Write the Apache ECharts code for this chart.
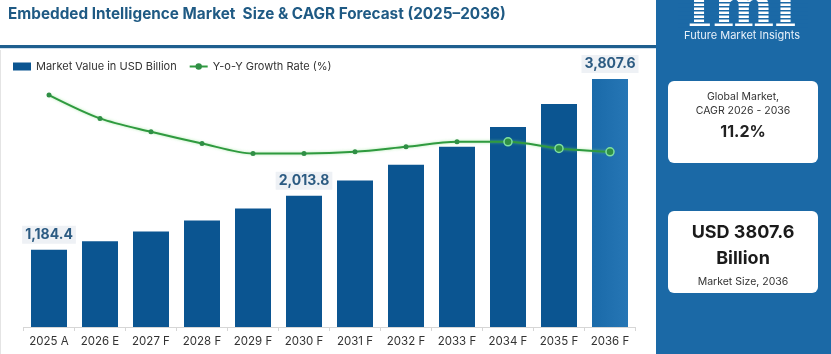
<!DOCTYPE html>
<html>
<head>
<meta charset="utf-8">
<script src="https://cdn.jsdelivr.net/npm/echarts@6/dist/echarts.min.js"></script>
<style>
  html, body { margin: 0; padding: 0; background: #fff; }
  #chart { width: 831px; height: 354px; }
</style>
</head>
<body>
<div id="chart"></div>
<script>
// data
const years = ['2025 A', '2026 E', '2027 F', '2028 F', '2029 F', '2030 F',
  '2031 F', '2032 F', '2033 F', '2034 F', '2035 F', '2036 F'];
const marketValue = [1184.4, 1315, 1468, 1636, 1820, 2013.8, 2248, 2492, 2768, 3073, 3425, 3807.6];
const growthRate = [13.9, 12.5, 11.7, 11.0, 10.4, 10.4, 10.5, 10.8, 11.1, 11.1, 10.7, 10.5];
const labelledYears = ['2025 A', '2030 F', '2036 F'];

const panelBlue = '#1b69a6';
const barBlue = '#0b5591';
const font = 'Inter, "Noto Sans", sans-serif';

const chart = echarts.init(document.getElementById('chart'));

const barData = marketValue.map((v, i) => {
  const item = { value: v };
  if (i === years.length - 1) {
    item.itemStyle = {
      color: new echarts.graphic.LinearGradient(0, 0, 1, 0, [
        { offset: 0, color: '#1a6aa9' },
        { offset: 1, color: '#2676b5' }
      ])
    };
  }
  if (labelledYears.indexOf(years[i]) >= 0) {
    item.label = {
      show: true,
      position: 'top',
      distance: 6,
      formatter: p => p.value.toLocaleString('en-US', { minimumFractionDigits: 1 }),
      color: '#2c5b82',
      fontWeight: 'bold',
      fontSize: 14,
      fontFamily: font,
      backgroundColor: '#eef1f5',
      padding: [2, 3]
    };
  }
  return item;
});

const lineData = growthRate.map((v, i) => {
  if (i >= 9) {
    return {
      value: v,
      symbol: 'circle',
      symbolSize: 8,
      itemStyle: { color: '#2f8f45', borderColor: '#7fe0a0', borderWidth: 1.5 }
    };
  }
  return v;
});

// stripes across the logo letters
const stripes = [];
for (let y = 2; y < 28; y += 4) {
  stripes.push({
    type: 'rect',
    shape: { x: 678, y: y, width: 130, height: 1.5 },
    style: { fill: panelBlue },
    z: 12
  });
}

chart.setOption({
  animation: false,
  title: {
    text: 'Embedded Intelligence Market  Size & CAGR Forecast (2025\u20132036)',
    left: 3,
    top: 2,
    textStyle: { color: '#1f5a84', fontSize: 15.3, fontWeight: 'bold', fontFamily: font }
  },
  legend: {
    left: 8,
    top: 56,
    itemGap: 12,
    itemWidth: 18,
    itemHeight: 8,
    textStyle: { color: '#333', fontSize: 11, fontFamily: font },
    data: [
      { name: 'Market Value in USD Billion', icon: 'rect' },
      { name: 'Y-o-Y Growth Rate (%)' }
    ]
  },
  grid: { left: 23.5, right: 195.5, top: 60, bottom: 27 },
  xAxis: {
    type: 'category',
    data: years,
    axisLine: { lineStyle: { color: '#d6d6d6' } },
    axisTick: { show: true, length: 4, lineStyle: { color: '#d6d6d6' } },
    axisLabel: { interval: 0, color: '#333', fontSize: 11.5, fontFamily: font, margin: 9 }
  },
  yAxis: [
    { type: 'value', min: 0, max: 4100, show: false },
    { type: 'value', min: 0, max: 16, show: false }
  ],
  series: [
    {
      name: 'Market Value in USD Billion',
      type: 'bar',
      barWidth: 36,
      itemStyle: { color: barBlue },
      data: barData
    },
    {
      name: 'Y-o-Y Growth Rate (%)',
      type: 'line',
      yAxisIndex: 1,
      smooth: 0.3,
      symbol: 'circle',
      symbolSize: 5,
      color: '#2f9a3f',
      lineStyle: { width: 2, color: '#2f9a3f', shadowColor: 'rgba(120,220,120,0.6)', shadowBlur: 3 },
      itemStyle: { color: '#2f8f45' },
      data: lineData,
      z: 5
    }
  ],
  graphic: [
    { type: 'rect', shape: { x: 0, y: 45, width: 656, height: 3 }, style: { fill: '#1f5f8f' }, z: 1 },
    { type: 'rect', shape: { x: 0, y: 48, width: 656, height: 1 }, style: { fill: '#cfe0ee' }, z: 1 },
    { type: 'rect', shape: { x: 0, y: 50, width: 1, height: 304 }, style: { fill: '#e4e4e4' }, z: 1 },
    { type: 'rect', shape: { x: 656, y: 0, width: 175, height: 354 }, style: { fill: panelBlue }, z: 10 },
    {
      type: 'text', x: 742, y: 40, z: 11,
      style: { text: 'fmi', fill: '#ffffff', font: 'bold 58px "DejaVu Serif", serif', align: 'center', verticalAlign: 'bottom' }
    },
    // cover anything of the letters that falls below the stripes
    { type: 'rect', shape: { x: 670, y: 28, width: 150, height: 20 }, style: { fill: panelBlue }, z: 12 },
    ...stripes,
    {
      type: 'text', x: 742, y: 30, z: 13,
      style: { text: 'Future Market Insights', fill: '#e8f1fa', font: '11px ' + font, align: 'center' }
    },
    { type: 'rect', shape: { x: 668, y: 81, width: 150, height: 82, r: 6 }, style: { fill: '#ffffff' }, z: 11 },
    {
      type: 'text', x: 743, y: 90, z: 12,
      style: { text: 'Global Market,\nCAGR 2026 - 2036', fill: '#333', font: '10.5px ' + font, align: 'center', lineHeight: 14 }
    },
    {
      type: 'text', x: 743, y: 124, z: 12,
      style: { text: '11.2%', fill: '#222', font: 'bold 16px ' + font, align: 'center' }
    },
    { type: 'rect', shape: { x: 668, y: 211, width: 150, height: 82, r: 6 }, style: { fill: '#ffffff' }, z: 11 },
    {
      type: 'text', x: 743, y: 220, z: 12,
      style: { text: 'USD 3807.6\nBillion', fill: '#1a1a1a', font: 'bold 18px ' + font, align: 'center', lineHeight: 26 }
    },
    {
      type: 'text', x: 743, y: 276, z: 12,
      style: { text: 'Market Size, 2036', fill: '#333', font: '10.5px ' + font, align: 'center' }
    }
  ]
});
</script>
</body>
</html>
